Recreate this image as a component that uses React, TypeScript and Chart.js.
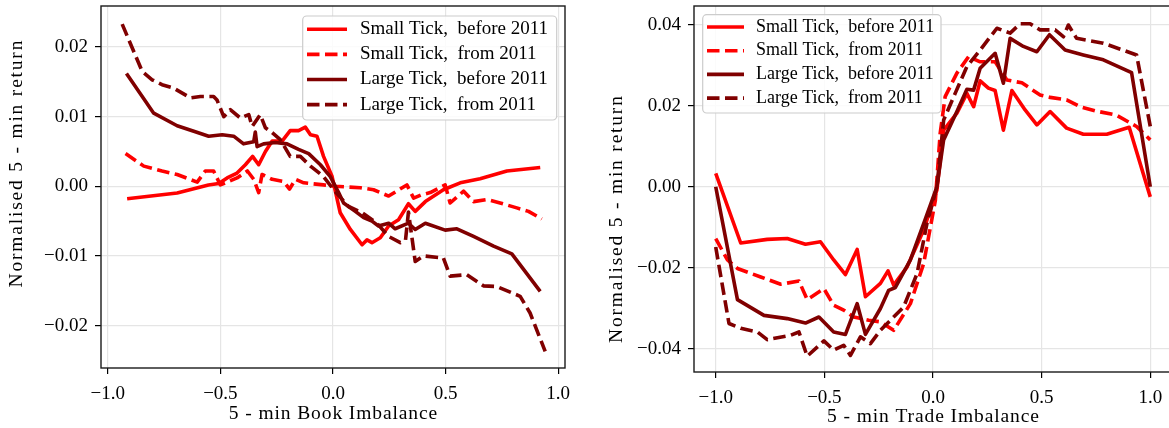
import React, { useEffect, useRef } from "react";
import { Chart, registerables } from "chart.js";

Chart.register(...registerables);

const FONT = '"Liberation Serif", "Times New Roman", serif';

// Series shared by both panels
const seriesLabels = [
  "Small Tick,  before 2011",
  "Small Tick,  from 2011",
  "Large Tick,  before 2011",
  "Large Tick,  from 2011",
];
const seriesColors = ["#ff0000", "#ff0000", "#800000", "#800000"];
const seriesDashed = [false, true, false, true];

// Axis ticks
const imbalanceTicks = [-1, -0.5, 0, 0.5, 1];
const bookReturnTicks = [-0.02, -0.01, 0, 0.01, 0.02];
const tradeReturnTicks = [-0.04, -0.02, 0, 0.02, 0.04];

// 5-min book imbalance panel
const bookSmallBeforeX = [-0.914, -0.692, -0.553, -0.507, -0.47, -0.426, -0.389, -0.357, -0.33, -0.3, -0.27, -0.226, -0.19, -0.153, -0.123, -0.1, -0.071, -0.042, -0.004, 0.032, 0.077, 0.129, 0.151, 0.173, 0.21, 0.247, 0.291, 0.335, 0.365, 0.41, 0.49, 0.565, 0.653, 0.772, 0.92];
const bookSmallBeforeY = [-0.0018, -0.00095, 0.0002, 0.0004, 0.0012, 0.0019, 0.0031, 0.0043, 0.0031, 0.005, 0.0065, 0.0065, 0.008, 0.008, 0.0085, 0.0074, 0.0072, 0.0043, 0.0014, -0.0038, -0.0062, -0.0084, -0.0077, -0.0081, -0.0074, -0.0057, -0.0048, -0.0025, -0.0036, -0.0022, -0.0005, 0.0005, 0.0011, 0.0022, 0.0027];

const bookSmallFromX = [-0.921, -0.84, -0.759, -0.692, -0.603, -0.567, -0.53, -0.5, -0.426, -0.38, -0.352, -0.33, -0.315, -0.27, -0.219, -0.193, -0.167, -0.13, -0.042, 0.01, 0.121, 0.18, 0.247, 0.328, 0.358, 0.395, 0.432, 0.498, 0.52, 0.58, 0.624, 0.683, 0.742, 0.816, 0.868, 0.927];
const bookSmallFromY = [0.0047, 0.0029, 0.0022, 0.0017, 0.0006, 0.0022, 0.0022, 0.0002, 0.0012, 0.0022, 0.001, -0.0009, 0.0017, 0.001, 0.0007, -0.0004, 0.001, 0.0005, 0.0002, 0.0, -0.0002, -0.0005, -0.0014, 0.0002, -0.0017, -0.0012, -0.0009, 0.0002, -0.0024, -0.0007, -0.0022, -0.0019, -0.0024, -0.0031, -0.0036, -0.0047];

const bookLargeBeforeX = [-0.917, -0.796, -0.692, -0.618, -0.552, -0.492, -0.441, -0.397, -0.352, -0.345, -0.337, -0.308, -0.256, -0.204, -0.153, -0.108, -0.056, -0.012, 0.025, 0.047, 0.099, 0.136, 0.173, 0.202, 0.247, 0.276, 0.335, 0.365, 0.41, 0.498, 0.55, 0.624, 0.713, 0.794, 0.92];
const bookLargeBeforeY = [0.0162, 0.0105, 0.0087, 0.0079, 0.0072, 0.0074, 0.0072, 0.0061, 0.0064, 0.0078, 0.0057, 0.0061, 0.0063, 0.0061, 0.0053, 0.0047, 0.0031, 0.0014, -0.0009, -0.0024, -0.0036, -0.0045, -0.005, -0.0057, -0.0053, -0.0061, -0.0053, -0.0062, -0.0053, -0.0063, -0.0061, -0.0072, -0.0086, -0.0097, -0.0151];

const bookLargeFromX = [-0.936, -0.847, -0.803, -0.759, -0.707, -0.633, -0.589, -0.53, -0.515, -0.485, -0.456, -0.411, -0.374, -0.359, -0.323, -0.3, -0.27, -0.234, -0.19, -0.145, -0.1, -0.042, 0.003, 0.069, 0.129, 0.195, 0.247, 0.299, 0.322, 0.335, 0.365, 0.402, 0.49, 0.52, 0.594, 0.668, 0.727, 0.831, 0.875, 0.942];
const bookLargeFromY = [0.0233, 0.0165, 0.0153, 0.0146, 0.0141, 0.0127, 0.0129, 0.0129, 0.0124, 0.01, 0.011, 0.0098, 0.0103, 0.0086, 0.0103, 0.0084, 0.0077, 0.0067, 0.0043, 0.0043, 0.0029, 0.0014, -0.0005, -0.0029, -0.0038, -0.0053, -0.0072, -0.0081, -0.0077, -0.0037, -0.0108, -0.01, -0.0103, -0.0129, -0.0127, -0.0143, -0.0144, -0.0158, -0.0182, -0.0237];

// 5-min trade imbalance panel
const tradeSmallBeforeX = [-1, -0.885, -0.763, -0.671, -0.587, -0.518, -0.457, -0.403, -0.349, -0.311, -0.242, -0.207, -0.181, -0.119, -0.043, 0.018, 0.049, 0.11, 0.156, 0.187, 0.217, 0.255, 0.286, 0.324, 0.363, 0.424, 0.478, 0.539, 0.615, 0.692, 0.8, 0.903, 1];
const tradeSmallBeforeY = [0.0033, -0.0139, -0.013, -0.0128, -0.0142, -0.0136, -0.0181, -0.0217, -0.0155, -0.0272, -0.0239, -0.0208, -0.0243, -0.0198, -0.0107, -0.0008, 0.014, 0.0182, 0.0231, 0.0198, 0.0262, 0.0244, 0.0238, 0.014, 0.0238, 0.019, 0.0153, 0.0186, 0.0145, 0.013, 0.013, 0.0147, -0.0025];

const tradeSmallFromX = [-1, -0.946, -0.9, -0.793, -0.701, -0.617, -0.579, -0.502, -0.457, -0.411, -0.365, -0.296, -0.242, -0.181, -0.104, -0.043, 0.011, 0.033, 0.056, 0.11, 0.164, 0.217, 0.286, 0.34, 0.409, 0.493, 0.539, 0.615, 0.677, 0.753, 0.845, 0.937, 1];
const tradeSmallFromY = [-0.0128, -0.0181, -0.0202, -0.0223, -0.0241, -0.0233, -0.0279, -0.0252, -0.0293, -0.0305, -0.0322, -0.033, -0.0334, -0.0355, -0.0289, -0.019, -0.0033, 0.0132, 0.0223, 0.0281, 0.0322, 0.0309, 0.0309, 0.0264, 0.0257, 0.0227, 0.0221, 0.0215, 0.0198, 0.0187, 0.0177, 0.0149, 0.0116];

const tradeLargeBeforeX = [-1, -0.9, -0.778, -0.671, -0.587, -0.525, -0.457, -0.403, -0.349, -0.311, -0.242, -0.204, -0.173, -0.104, -0.043, 0.018, 0.049, 0.11, 0.156, 0.187, 0.217, 0.286, 0.324, 0.355, 0.416, 0.478, 0.536, 0.608, 0.692, 0.784, 0.914, 1];
const tradeLargeBeforeY = [0.0, -0.0279, -0.0318, -0.0326, -0.0337, -0.0322, -0.0359, -0.0365, -0.0289, -0.0365, -0.0301, -0.0256, -0.0249, -0.0181, -0.0091, 0.0, 0.0116, 0.0186, 0.0241, 0.0239, 0.0293, 0.033, 0.0256, 0.0367, 0.0347, 0.0334, 0.0376, 0.0338, 0.0326, 0.0314, 0.0282, 0.0];

const tradeLargeFromX = [-1, -0.939, -0.885, -0.808, -0.763, -0.655, -0.617, -0.579, -0.502, -0.457, -0.411, -0.38, -0.334, -0.288, -0.242, -0.196, -0.135, -0.073, -0.028, 0.018, 0.049, 0.102, 0.156, 0.217, 0.294, 0.355, 0.401, 0.447, 0.493, 0.562, 0.6, 0.623, 0.661, 0.784, 0.937, 1];
const tradeLargeFromY = [-0.0149, -0.0338, -0.035, -0.0359, -0.0378, -0.0367, -0.0359, -0.0419, -0.0381, -0.0404, -0.0392, -0.0417, -0.0371, -0.0388, -0.0355, -0.033, -0.0297, -0.0214, -0.0091, 0.0, 0.0165, 0.0231, 0.0297, 0.0338, 0.0392, 0.038, 0.0403, 0.0403, 0.0388, 0.0388, 0.0371, 0.04, 0.0367, 0.0355, 0.0326, 0.0149];

const CANVAS_H = 428;

function fmt(v: number, digits: number): string {
  const s = Math.abs(v).toFixed(digits);
  return v < 0 && Number(s) !== 0 ? "\u2212" + s : s;
}

// Full box around the plotting area
const framePlugin = {
  id: "frame",
  afterDatasetsDraw(chart: any) {
    const { ctx, chartArea: a } = chart;
    ctx.save();
    ctx.strokeStyle = "#1a1a1a";
    ctx.lineWidth = 1.4;
    ctx.strokeRect(a.left, a.top, a.right - a.left, a.bottom - a.top);
    ctx.restore();
  },
};

// Framed legend placed inside the plotting area
const boxLegendPlugin = {
  id: "boxLegend",
  afterDraw(chart: any, _args: any, o: any) {
    const ctx = chart.ctx;
    ctx.save();
    ctx.beginPath();
    ctx.roundRect(o.x, o.y, o.w, o.h, 4);
    ctx.fillStyle = "rgba(255,255,255,0.85)";
    ctx.fill();
    ctx.strokeStyle = "#cccccc";
    ctx.lineWidth = 1.2;
    ctx.stroke();
    chart.data.datasets.forEach((ds: any, i: number) => {
      const y = o.y + o.firstRow + i * o.rowGap;
      ctx.beginPath();
      ctx.setLineDash(ds.borderDash || []);
      ctx.lineCap = "butt";
      ctx.strokeStyle = ds.borderColor;
      ctx.lineWidth = ds.borderWidth;
      ctx.moveTo(o.x + o.lineStart, y);
      ctx.lineTo(o.x + o.lineStart + o.lineLen, y);
      ctx.stroke();
      ctx.setLineDash([]);
      ctx.fillStyle = "#000";
      ctx.font = `${o.fontSize}px ${FONT}`;
      ctx.textAlign = "left";
      ctx.textBaseline = "middle";
      ctx.fillText(ds.label, o.x + o.textStart, y);
    });
    ctx.restore();
  },
};

// Axis titles (x centred under the plotting area, y rotated at the left)
const axisTitlesPlugin = {
  id: "axisTitles",
  afterDraw(chart: any, _args: any, o: any) {
    const { ctx, chartArea: a } = chart;
    ctx.save();
    ctx.fillStyle = "#000";
    ctx.font = `${o.fontSize}px ${FONT}`;
    ctx.textAlign = "center";
    ctx.textBaseline = "middle";
    ctx.letterSpacing = `${o.xSpacing}px`;
    ctx.fillText(o.xText, (a.left + a.right) / 2 + o.xSpacing / 2, o.xY);
    ctx.translate(o.yX, o.yY);
    ctx.rotate(-Math.PI / 2);
    ctx.letterSpacing = `${o.ySpacing}px`;
    ctx.fillText(o.yText, o.ySpacing / 2, 0);
    ctx.restore();
  },
};

type PanelSpec = {
  xs: number[][];
  ys: number[][];
  xMin: number;
  xMax: number;
  yMin: number;
  yMax: number;
  yTicks: number[];
  yDigits: number;
  xTitle: string;
  yTitle: string;
  width: number;
  plotLeft: number;
  plotTop: number;
  plotRight: number;
  plotBottom: number;
  xTitleY: number;
  yTitlePos: { x: number; y: number };
  legend: any;
};

const yTitleText = "Normalised 5 - min return";

const bookPanel: PanelSpec = {
  xs: [bookSmallBeforeX, bookSmallFromX, bookLargeBeforeX, bookLargeFromX],
  ys: [bookSmallBeforeY, bookSmallFromY, bookLargeBeforeY, bookLargeFromY],
  xMin: -1.03,
  xMax: 1.03,
  yMin: -0.0261,
  yMax: 0.0259,
  yTicks: bookReturnTicks,
  yDigits: 2,
  xTitle: "5 - min Book Imbalance",
  yTitle: yTitleText,
  width: 580,
  plotLeft: 101,
  plotTop: 6,
  plotRight: 565,
  plotBottom: 368,
  xTitleY: 414,
  yTitlePos: { x: 17, y: 164 },
  legend: { x: 302.7, y: 16, w: 254, h: 104, firstRow: 13.3, rowGap: 25.1, lineStart: 4.3, lineLen: 40, textStart: 57.3, fontSize: 19 },
};

const tradePanel: PanelSpec = {
  xs: [tradeSmallBeforeX, tradeSmallFromX, tradeLargeBeforeX, tradeLargeFromX],
  ys: [tradeSmallBeforeY, tradeSmallFromY, tradeLargeBeforeY, tradeLargeFromY],
  xMin: -1.1,
  xMax: 1.1,
  yMin: -0.0458,
  yMax: 0.0447,
  yTicks: tradeReturnTicks,
  yDigits: 2,
  xTitle: "5 - min Trade Imbalance",
  yTitle: yTitleText,
  width: 572,
  plotLeft: 94,
  plotTop: 6,
  plotRight: 572,
  plotBottom: 372,
  xTitleY: 417,
  yTitlePos: { x: 17, y: 219.5 },
  legend: { x: 102.7, y: 14.7, w: 238.3, h: 98.3, firstRow: 12.3, rowGap: 23.7, lineStart: 4.3, lineLen: 37, textStart: 53.3, fontSize: 18 },
};

function buildChart(canvas: HTMLCanvasElement, p: PanelSpec) {
  const tickFont = { family: FONT, size: 19 };
  const grid = {
    color: "#e5e5e5",
    lineWidth: 1.2,
    drawTicks: true,
    tickColor: "#000",
    tickLength: 6,
    tickWidth: 1.2,
  };
  return new Chart(canvas, {
    type: "line",
    data: {
      datasets: seriesLabels.map((label, i) => ({
        label,
        data: p.xs[i].map((x, j) => ({ x, y: p.ys[i][j] })),
        borderColor: seriesColors[i],
        borderWidth: 3.6,
        borderDash: seriesDashed[i] ? [12.5, 5.5] : [],
        borderCapStyle: "butt",
        borderJoinStyle: "round",
        pointRadius: 0,
        tension: 0,
        fill: false,
        order: seriesLabels.length - i,
      })),
    },
    options: {
      responsive: false,
      animation: false,
      layout: {
        padding: { left: 0, top: p.plotTop, right: p.width - p.plotRight, bottom: 0 },
      },
      plugins: {
        legend: { display: false },
        tooltip: { enabled: false },
        boxLegend: p.legend,
        axisTitles: {
          xText: p.xTitle,
          xY: p.xTitleY,
          xSpacing: 0.9,
          yText: p.yTitle,
          yX: p.yTitlePos.x,
          yY: p.yTitlePos.y,
          ySpacing: 1.8,
          fontSize: 19.5,
        },
      } as any,
      scales: {
        x: {
          type: "linear",
          min: p.xMin,
          max: p.xMax,
          afterBuildTicks: (s: any) => {
            s.ticks = imbalanceTicks.map((v) => ({ value: v }));
          },
          afterFit: (s: any) => {
            s.height = CANVAS_H - p.plotBottom;
            s.paddingLeft = 0;
            s.paddingRight = 0;
          },
          ticks: {
            callback: (v: any) => fmt(Number(v), 1),
            font: tickFont,
            color: "#000",
            padding: 9,
            maxRotation: 0,
            autoSkip: false,
          },
          grid,
          border: { display: false },
        },
        y: {
          type: "linear",
          min: p.yMin,
          max: p.yMax,
          afterBuildTicks: (s: any) => {
            s.ticks = p.yTicks.map((v) => ({ value: v }));
          },
          afterFit: (s: any) => {
            s.width = p.plotLeft;
            s.paddingTop = 0;
            s.paddingBottom = 0;
          },
          ticks: {
            callback: (v: any) => fmt(Number(v), p.yDigits),
            font: tickFont,
            color: "#000",
            padding: 7,
            autoSkip: false,
          },
          grid,
          border: { display: false },
        },
      },
    } as any,
    plugins: [framePlugin, boxLegendPlugin, axisTitlesPlugin],
  });
}

function Panel({ spec, left }: { spec: PanelSpec; left: number }) {
  const ref = useRef<HTMLCanvasElement | null>(null);
  useEffect(() => {
    if (!ref.current) return;
    const chart = buildChart(ref.current, spec);
    return () => chart.destroy();
  }, [spec]);
  return (
    <canvas
      ref={ref}
      width={spec.width}
      height={CANVAS_H}
      style={{ position: "absolute", left, top: 0, width: spec.width, height: CANVAS_H }}
    />
  );
}

export default function App() {
  return (
    <div
      style={{
        position: "fixed",
        left: 0,
        top: 0,
        width: 1169,
        height: CANVAS_H,
        overflow: "hidden",
        background: "#fff",
      }}
    >
      <Panel spec={bookPanel} left={0} />
      <Panel spec={tradePanel} left={600} />
    </div>
  );
}
